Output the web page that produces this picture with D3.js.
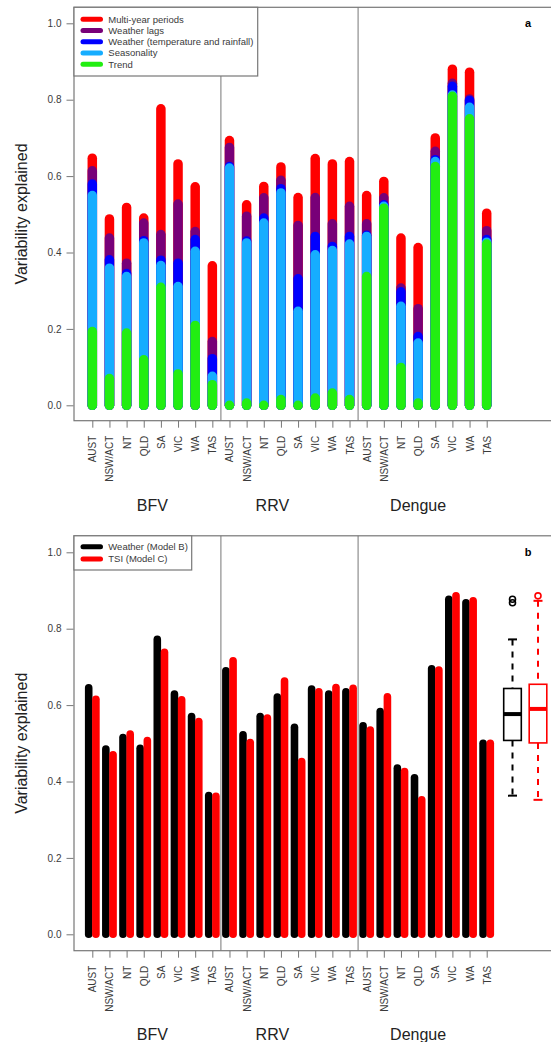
<!DOCTYPE html>
<html><head><meta charset="utf-8">
<script src="https://cdn.jsdelivr.net/npm/d3@7"></script>
<style>
html,body{margin:0;padding:0;background:#fff;}
svg{display:block;font-family:"Liberation Sans",Arial,Helvetica,sans-serif;}
</style></head>
<body>
<svg id="chart" width="551" height="1042"></svg>
<script>
// ---------- data ----------
const states = ["AUST","NSW/ACT","NT","QLD","SA","VIC","WA","TAS"];
const diseases = ["BFV","RRV","Dengue"];
const yTicks = [0, 0.2, 0.4, 0.6, 0.8, 1.0];

// panel a: components of variability explained (BFV x8, RRV x8, Dengue x8)
const trend =       [0.193,0.070,0.189,0.119,0.309,0.082,0.209,0.054,
                     0.000,0.006,0.000,0.015,0.000,0.019,0.032,0.015,
                     0.337,0.516,0.099,0.006,0.625,0.809,0.750,0.422];
const seasonality = [0.356,0.289,0.148,0.306,0.057,0.229,0.194,0.022,
                     0.621,0.419,0.477,0.541,0.246,0.375,0.373,0.407,
                     0.105,0.005,0.160,0.157,0.013,0.003,0.030,0.005];
const weather =     [0.030,0.022,0.008,0.006,0.014,0.061,0.031,0.046,
                     0.004,0.005,0.013,0.011,0.085,0.048,0.011,0.020,
                     0.003,0.004,0.038,0.017,0.005,0.023,0.018,0.007];
const weatherLags = [0.035,0.057,0.027,0.046,0.067,0.155,0.021,0.045,
                     0.050,0.065,0.053,0.022,0.140,0.102,0.059,0.079,
                     0.030,0.018,0.010,0.073,0.022,0.008,0.004,0.023];
const multiYear =   [0.033,0.050,0.146,0.013,0.329,0.105,0.117,0.198,
                     0.018,0.030,0.030,0.035,0.073,0.102,0.157,0.117,
                     0.074,0.043,0.131,0.160,0.035,0.037,0.070,0.046];
const componentNames = ["Trend","Seasonality","Weather (temperature and rainfall)","Weather lags","Multi-year periods"];
const componentColors = ["#22ee11","#16adff","#0000ff","#780078","#ff0000"];

// panel b: model comparison
const weatherModelB = [0.645,0.485,0.515,0.487,0.772,0.629,0.570,0.363,
                       0.690,0.522,0.570,0.621,0.542,0.642,0.629,0.635,
                       0.546,0.583,0.435,0.410,0.695,0.877,0.868,0.500];
const tsiModelC =     [0.615,0.470,0.524,0.507,0.738,0.614,0.557,0.361,
                       0.716,0.502,0.566,0.663,0.452,0.635,0.646,0.644,
                       0.535,0.622,0.426,0.352,0.692,0.886,0.873,0.500];
const modelNames = ["Weather (Model B)","TSI (Model C)"];
const modelColors = ["#000000","#ff0000"];

// ---------- layout ----------
const svg = d3.select("#chart");
const nBars = diseases.length * states.length;
const rows = d3.range(nBars).map(i => ({
  idx: i, state: states[i % states.length], disease: diseases[Math.floor(i / states.length)],
  trend: trend[i], seasonality: seasonality[i], weather: weather[i], lags: weatherLags[i], multi: multiYear[i]
}));
const x = d3.scaleLinear().domain([0, nBars - 1]).range([92.3, 486.7]);
const boxLeft = 74, boxRight = 600;
const gray = "#777";
const txt = "#3a3a3a";

function panel(offY, top, bottom, label) {
  const g = svg.append("g");
  const y = d3.scaleLinear().domain([0, 1]).range([405.3 + offY, 23.3 + offY]);
  // y axis ticks
  const ya = g.append("g").attr("transform", `translate(${boxLeft - 0.5},0)`)
    .call(d3.axisLeft(y).tickValues(yTicks).tickFormat(d3.format(".1f")).tickSize(7).tickPadding(5));
  ya.select(".domain").remove();
  ya.selectAll("line").attr("stroke", gray);
  ya.selectAll("text").attr("font-size", 10).attr("fill", txt).attr("font-family", "Liberation Sans, Arial, sans-serif");
  // x axis ticks
  const xa = g.append("g").attr("transform", `translate(0,${bottom})`)
    .call(d3.axisBottom(x).tickValues(d3.range(nBars)).tickSize(7).tickFormat(i => states[i % states.length]));
  xa.select(".domain").remove();
  xa.selectAll("line").attr("stroke", gray);
  xa.selectAll("text").attr("font-size", 10).attr("fill", txt)
    .attr("font-family", "Liberation Sans, Arial, sans-serif")
    .attr("transform", "rotate(-90)").attr("text-anchor", "end")
    .attr("x", -15).attr("y", 0).attr("dy", "0.35em");
  // y title
  g.append("text").attr("transform", `translate(21,${(top + bottom) / 2}) rotate(-90)`)
    .attr("text-anchor", "middle").attr("dy", "0.35em").attr("font-size", 16).attr("fill", "#222")
    .text("Variability explained");
  // group labels
  const groupPos = [3.5, 10.5, 19];
  g.selectAll(".grp").data(diseases).enter().append("text")
    .attr("x", (d, i) => x(groupPos[i])).attr("y", 505.5 + offY).attr("dy", "0.35em")
    .attr("text-anchor", "middle").attr("font-size", 16).attr("fill", "#222").text(d => d);
  // separators
  [7.5, 15.5].forEach(s => g.append("line").attr("x1", x(s)).attr("x2", x(s))
    .attr("y1", top).attr("y2", bottom).attr("stroke", gray).attr("stroke-width", 1));
  // panel letter
  g.append("text").attr("x", 528).attr("y", y(1)).attr("dy", "0.35em").attr("text-anchor", "middle")
    .attr("font-size", 11).attr("font-weight", "bold").text(label);
  return {g, y};
}

// ---------- panel a ----------
const pa = panel(0, 7.3, 420.7, "a");
const keys = ["trend","seasonality","weather","lags","multi"];
const stack = d3.stack().keys(keys)(rows);
const barsA = pa.g.append("g");
for (let k = keys.length - 1; k >= 0; k--) {
  barsA.selectAll(null).data(stack[k]).enter().append("line")
    .attr("x1", d => x(d.data.idx)).attr("x2", d => x(d.data.idx))
    .attr("y1", pa.y(0)).attr("y2", d => pa.y(d[1]))
    .attr("stroke", componentColors[k]).attr("stroke-width", 9.5).attr("stroke-linecap", "round");
}
// box a
pa.g.append("rect").attr("x", boxLeft).attr("y", 7.3).attr("width", boxRight - boxLeft).attr("height", 420.7 - 7.3)
  .attr("fill", "none").attr("stroke", gray).attr("stroke-width", 1.2);
// legend a
const legA = pa.g.append("g");
legA.append("rect").attr("x", boxLeft).attr("y", 7.3).attr("width", 257.7 - boxLeft).attr("height", 76 - 7.3)
  .attr("fill", "#fff").attr("stroke", gray).attr("stroke-width", 1.2);
const legOrder = d3.range(componentNames.length).reverse();
legOrder.forEach((k, j) => {
  const yy = 19.3 + j * 11.25;
  legA.append("line").attr("x1", 83).attr("x2", 100.5).attr("y1", yy).attr("y2", yy)
    .attr("stroke", componentColors[k]).attr("stroke-width", 5).attr("stroke-linecap", "round");
  legA.append("text").attr("x", 108.3).attr("y", yy).attr("dy", "0.35em").attr("font-size", 9.5)
    .attr("fill", txt).text(componentNames[k]);
});

// ---------- panel b ----------
const offB = 529;
const pb = panel(offB, 535.8, 950.7, "b");
const series = [weatherModelB, tsiModelC];
const offsets = [-3.6, 3.6];
series.forEach((vals, s) => {
  pb.g.append("g").selectAll("line").data(vals).enter().append("line")
    .attr("x1", (d, i) => x(i) + offsets[s]).attr("x2", (d, i) => x(i) + offsets[s])
    .attr("y1", pb.y(0)).attr("y2", d => pb.y(d))
    .attr("stroke", modelColors[s]).attr("stroke-width", 7.6).attr("stroke-linecap", "round");
});
// boxplots (Tukey five-number summary, 1.5 IQR whiskers)
function fivenum(arr) {
  const a = arr.slice().sort(d3.ascending), n = a.length;
  const n4 = Math.floor((n + 3) / 2) / 2;
  const idx = [1, n4, (n + 1) / 2, n + 1 - n4, n];
  return idx.map(t => 0.5 * (a[Math.floor(t) - 1] + a[Math.ceil(t) - 1]));
}
const boxX = [512.5, 538];
series.forEach((vals, s) => {
  const f = fivenum(vals);
  const iqr = f[3] - f[1];
  const hiFence = f[3] + 1.5 * iqr, loFence = f[1] - 1.5 * iqr;
  const inside = vals.filter(v => v >= loFence && v <= hiFence);
  const wLo = d3.min(inside), wHi = d3.max(inside);
  const outs = vals.filter(v => v < loFence || v > hiFence);
  const c = modelColors[s], cx = boxX[s], hw = 8.8, sw = 4.5;
  const gb = pb.g.append("g");
  [[wHi, f[3]], [f[1], wLo]].forEach(([a, b]) => gb.append("line").attr("x1", cx).attr("x2", cx)
    .attr("y1", pb.y(a)).attr("y2", pb.y(b)).attr("stroke", c).attr("stroke-width", 2).attr("stroke-dasharray", "6,6"));
  [wHi, wLo].forEach(v => gb.append("line").attr("x1", cx - sw).attr("x2", cx + sw)
    .attr("y1", pb.y(v)).attr("y2", pb.y(v)).attr("stroke", c).attr("stroke-width", 2));
  gb.append("rect").attr("x", cx - hw).attr("y", pb.y(f[3])).attr("width", 2 * hw)
    .attr("height", pb.y(f[1]) - pb.y(f[3])).attr("fill", "#fff").attr("stroke", c).attr("stroke-width", 1.6);
  gb.append("line").attr("x1", cx - hw).attr("x2", cx + hw).attr("y1", pb.y(f[2])).attr("y2", pb.y(f[2]))
    .attr("stroke", c).attr("stroke-width", 4);
  gb.selectAll("circle").data(outs).enter().append("circle").attr("cx", cx).attr("cy", d => pb.y(d))
    .attr("r", 3).attr("fill", "none").attr("stroke", c).attr("stroke-width", 1.6);
});
// box b
pb.g.append("rect").attr("x", boxLeft).attr("y", 535.8).attr("width", boxRight - boxLeft).attr("height", 950.7 - 535.8)
  .attr("fill", "none").attr("stroke", gray).attr("stroke-width", 1.2);
// legend b
const legB = pb.g.append("g");
legB.append("rect").attr("x", boxLeft).attr("y", 535.8).attr("width", 191.7 - boxLeft).attr("height", 570 - 535.8)
  .attr("fill", "#fff").attr("stroke", gray).attr("stroke-width", 1.2);
modelNames.forEach((name, j) => {
  const yy = 546.7 + j * 12.3;
  legB.append("line").attr("x1", 83).attr("x2", 100.5).attr("y1", yy).attr("y2", yy)
    .attr("stroke", modelColors[j]).attr("stroke-width", 5).attr("stroke-linecap", "round");
  legB.append("text").attr("x", 108.3).attr("y", yy).attr("dy", "0.35em").attr("font-size", 9.5)
    .attr("fill", txt).text(name);
});
</script>
</body></html>
